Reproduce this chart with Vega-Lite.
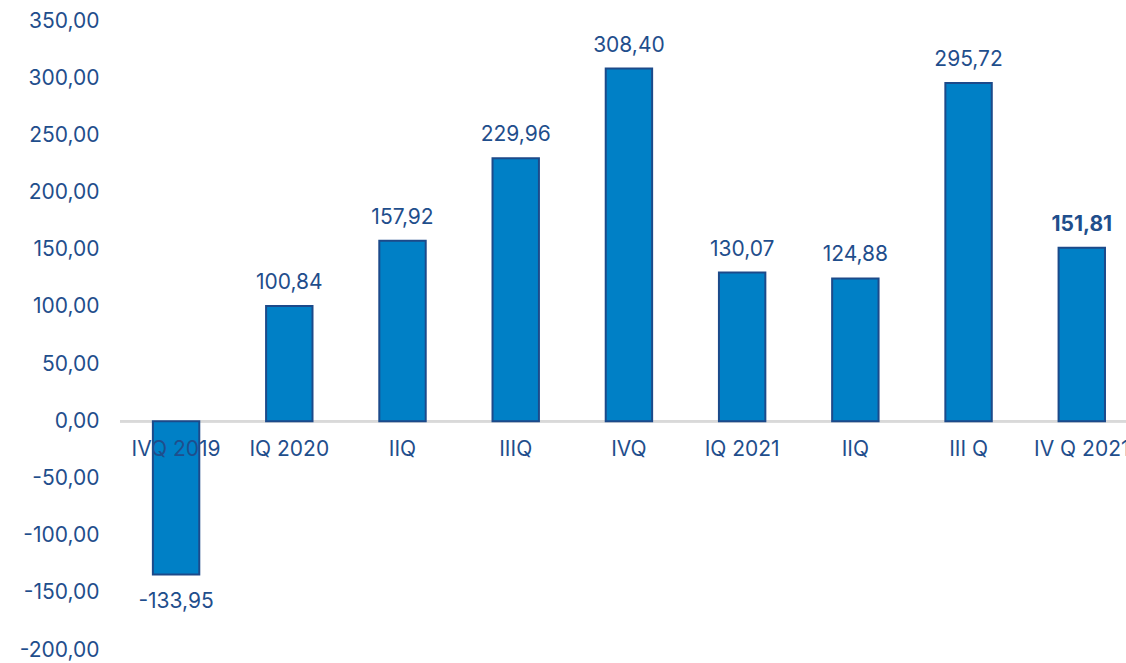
{
  "$schema": "https://vega.github.io/schema/vega-lite/v6.json",
  "autosize": {"type": "none"},
  "width": 1006,
  "height": 629,
  "padding": {"left": 120, "top": 21, "right": 0, "bottom": 13},
  "background": "white",
  "config": {
    "view": {"stroke": null},
    "font": "Inter",
    "locale": {"number": {"decimal": ",", "thousands": ".", "grouping": [3], "currency": ["", ""], "minus": "-"}}
  },
  "data": {
    "values": [
      {"period": "IVQ 2019", "value": -133.95, "bold": false},
      {"period": "IQ 2020", "value": 100.84, "bold": false},
      {"period": "IIQ", "value": 157.92, "bold": false},
      {"period": "IIIQ", "value": 229.96, "bold": false},
      {"period": "IVQ", "value": 308.40, "bold": false},
      {"period": "IQ 2021", "value": 130.07, "bold": false},
      {"period": "IIQ ", "value": 124.88, "bold": false},
      {"period": "III Q", "value": 295.72, "bold": false},
      {"period": "IV Q 2021", "value": 151.81, "bold": true}
    ]
  },
  "encoding": {
    "x": {
      "field": "period",
      "type": "nominal",
      "sort": null,
      "scale": {"paddingInner": 0.59, "paddingOuter": 0.238, "align": 0.61},
      "axis": null
    }
  },
  "layer": [
    {
      "mark": {"type": "rule", "color": "#d9d9d9", "strokeWidth": 2},
      "encoding": {"x": null, "y": {"datum": 0, "type": "quantitative"}}
    },
    {
      "mark": {"type": "bar", "color": "#0080c6", "stroke": "#1c4a8a", "strokeWidth": 2},
      "encoding": {
        "y": {
          "field": "value",
          "type": "quantitative",
          "scale": {"domain": [-200, 350], "nice": false, "zero": false},
          "axis": {
            "values": [-200, -150, -100, -50, 0, 50, 100, 150, 200, 250, 300, 350],
            "format": ".2f",
            "grid": false,
            "domain": false,
            "ticks": false,
            "tickSize": 0,
            "labelPadding": 21,
            "labelFontSize": 21,
            "labelColor": "#1f4e8c",
            "labelFont": "Inter",
            "title": null
          }
        }
      }
    },
    {
      "transform": [{"filter": "datum.value >= 0 && !datum.bold"}],
      "mark": {"type": "text", "baseline": "middle", "dy": -23, "fontSize": 21, "color": "#1f4e8c"},
      "encoding": {
        "y": {"field": "value", "type": "quantitative"},
        "text": {"field": "value", "type": "quantitative", "format": ".2f"}
      }
    },
    {
      "transform": [{"filter": "datum.bold"}],
      "mark": {"type": "text", "baseline": "middle", "dy": -23, "fontSize": 21, "fontWeight": "bold", "color": "#1f4e8c"},
      "encoding": {
        "y": {"field": "value", "type": "quantitative"},
        "text": {"field": "value", "type": "quantitative", "format": ".2f"}
      }
    },
    {
      "transform": [{"filter": "datum.value < 0"}],
      "mark": {"type": "text", "baseline": "middle", "dy": 28, "fontSize": 21, "color": "#1f4e8c"},
      "encoding": {
        "y": {"field": "value", "type": "quantitative"},
        "text": {"field": "value", "type": "quantitative", "format": ".2f"}
      }
    },
    {
      "mark": {"type": "text", "baseline": "middle", "dy": 29, "fontSize": 21, "color": "#1f4e8c"},
      "encoding": {
        "y": {"datum": 0, "type": "quantitative"},
        "text": {"field": "period", "type": "nominal"}
      }
    }
  ]
}
